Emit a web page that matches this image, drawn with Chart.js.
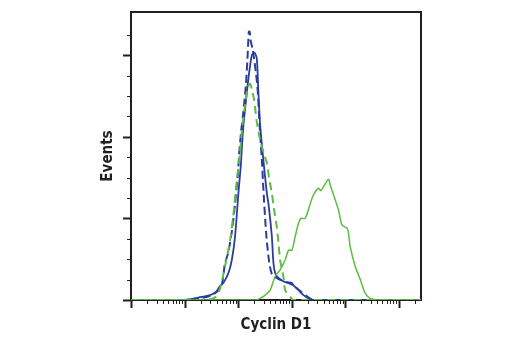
<!DOCTYPE html>
<html>
<head>
<meta charset="utf-8">
<script src="https://cdn.jsdelivr.net/npm/chart.js@4"></script>
<style>
  html, body { margin: 0; padding: 0; background: #fff; }
  #wrap { width: 520px; height: 350px; }
</style>
</head>
<body>
<div id="wrap"><canvas id="chart" width="520" height="350"></canvas></div>
<script>
// [channel, events]
const blueSolid = [
  [1, 0], [9.4, 0], [13, 1], [18.2, 3], [26.4, 5], [33, 7], [40, 11], [46, 17],
  [53.3, 21], [66, 33], [76.5, 49], [88, 78], [101.6, 131], [112.7, 165],
  [117.7, 186], [126, 214], [140, 243], [156, 271], [181, 300], [203, 303],
  [224, 296], [240, 255], [259, 214], [298, 171], [345, 131], [370, 118],
  [428, 78], [459, 45], [494, 33], [569, 27], [760, 22], [1000, 21],
  [1087, 18], [1347, 12], [1671, 6], [2074, 2], [2500, 0], [262144, 0],
];
const blueDashed = [
  [1, 0], [12.7, 0], [19.5, 2], [30, 5], [42, 11], [50, 19], [57, 45],
  [65, 57], [77, 85], [88, 118], [99, 153], [104.7, 178], [114, 206],
  [126, 231], [140, 263], [150, 296], [159, 329], [165, 329], [172, 318],
  [189, 306], [218, 276], [234, 255], [253, 214], [279, 171], [298, 135],
  [335, 82], [381, 47], [434, 31], [562, 26], [865, 21], [1087, 18],
  [1449, 11], [1877, 5], [2330, 1], [2700, 0], [262144, 0],
];
const greenDashed = [
  [1, 0], [24, 0], [37, 3], [46, 14], [57, 41], [71, 73], [82, 105],
  [95, 147], [108, 178], [117.7, 206], [131.5, 233], [152, 260], [168, 265],
  [183, 257], [200, 245], [224.5, 218], [259, 196], [298.5, 181], [345, 168],
  [381, 149], [428, 131], [473, 110], [531, 89], [574, 67], [612, 49],
  [706, 28], [760, 12], [942, 4], [1072, 0], [262144, 0],
];
const greenSolid = [
  [1, 0], [209, 0], [259, 2], [321, 6], [398, 12], [493, 29], [612, 37],
  [760, 49], [876, 61], [1014, 61], [1169, 78], [1347, 94], [1494, 100],
  [1797, 100], [2230, 118], [2571, 129], [3189, 137], [3534, 134],
  [3955, 139], [4907, 148], [5277, 141], [6085, 129], [7548, 110],
  [8733, 92], [11120, 87], [12490, 65], [15490, 41], [19230, 25],
  [23840, 8], [29580, 2], [45500, 0], [262144, 0],
];

const xMin = 1;
const xMax = 262144;
const yMax = 353;
const xMajorTicks = [1, 10, 100, 1000, 10000, 100000];
const xMinorTicks = [2, 3, 4, 5, 6, 7, 8, 9, 20, 30, 40, 50, 60, 70, 80, 90,
  200, 300, 400, 500, 600, 700, 800, 900, 2000, 3000, 4000, 5000, 6000, 7000,
  8000, 9000, 20000, 30000, 40000, 50000, 60000, 70000, 80000, 90000, 200000];
const yMajorTicks = [0, 100, 200, 300];
const yMinorTicks = [25, 50, 75, 125, 150, 175, 225, 250, 275, 325];

const BLUE = "#2b3c9f";
const GREEN = "#5cbc44";
const INK = "#231f20";

const toPts = (arr) => arr.map(([x, y]) => ({ x, y }));

// frame + tick marks, placed with the chart's own scales
const frameTicks = {
  id: "frameTicks",
  beforeDatasetsDraw(chart) {
    const { ctx, chartArea: a, scales } = chart;
    const xs = scales.x;
    const ys = scales.y;
    ctx.save();
    ctx.strokeStyle = INK;
    ctx.lineWidth = 2;
    ctx.strokeRect(a.left, a.top, a.right - a.left, a.bottom - a.top);

    const xTick = (v, len, w) => {
      const px = Math.round(xs.getPixelForValue(v)) + 0.5;
      ctx.lineWidth = w;
      ctx.beginPath();
      ctx.moveTo(px, a.bottom);
      ctx.lineTo(px, a.bottom + len);
      ctx.stroke();
    };
    const yTick = (v, len, w) => {
      const py = Math.round(ys.getPixelForValue(v)) + 0.5;
      ctx.lineWidth = w;
      ctx.beginPath();
      ctx.moveTo(a.left, py);
      ctx.lineTo(a.left - len, py);
      ctx.stroke();
    };
    xMinorTicks.forEach((v) => xTick(v, 4, 1));
    xMajorTicks.forEach((v) => xTick(v, 8, 2));
    yMinorTicks.forEach((v) => yTick(v, 4, 1));
    yMajorTicks.forEach((v) => yTick(v, 8, 2));
    ctx.restore();
  },
};

const titleFont = { family: "'DejaVu Sans Condensed', 'Liberation Sans', Arial, sans-serif", size: 15, weight: "bold" };

new Chart(document.getElementById("chart").getContext("2d"), {
  type: "line",
  data: {
    datasets: [
      {
        label: "green solid",
        data: toPts(greenSolid),
        borderColor: GREEN,
        borderWidth: 1.5,
        pointRadius: 0,
        tension: 0.25,
      },
      {
        label: "green dashed",
        data: toPts(greenDashed),
        borderColor: GREEN,
        borderWidth: 2,
        borderDash: [8, 5],
        pointRadius: 0,
        tension: 0.25,
      },
      {
        label: "blue dashed",
        data: toPts(blueDashed),
        borderColor: BLUE,
        borderWidth: 2,
        borderDash: [8, 4],
        pointRadius: 0,
        tension: 0.25,
      },
      {
        label: "blue solid",
        data: toPts(blueSolid),
        borderColor: BLUE,
        borderWidth: 1.8,
        pointRadius: 0,
        tension: 0.25,
      },
    ],
  },
  options: {
    responsive: false,
    animation: false,
    events: [],
    layout: { padding: { left: 94, top: 12, right: 99, bottom: 0 } },
    plugins: { legend: { display: false }, tooltip: { enabled: false } },
    scales: {
      x: {
        type: "logarithmic",
        min: xMin,
        max: xMax,
        grid: { display: false },
        border: { display: false },
        ticks: { display: false },
        title: {
          display: true,
          text: "Cyclin D1",
          color: INK,
          font: titleFont,
          padding: { top: 0, bottom: 16 },
        },
        afterFit: (s) => { s.height = 50; },
      },
      y: {
        type: "linear",
        min: 0,
        max: yMax,
        grid: { display: false },
        border: { display: false },
        ticks: { display: false },
        title: {
          display: true,
          text: "Events",
          color: INK,
          font: titleFont,
          padding: { top: 5, bottom: 0 },
        },
        afterFit: (s) => { s.width = 37; },
      },
    },
  },
  plugins: [frameTicks],
});
</script>
</body>
</html>
